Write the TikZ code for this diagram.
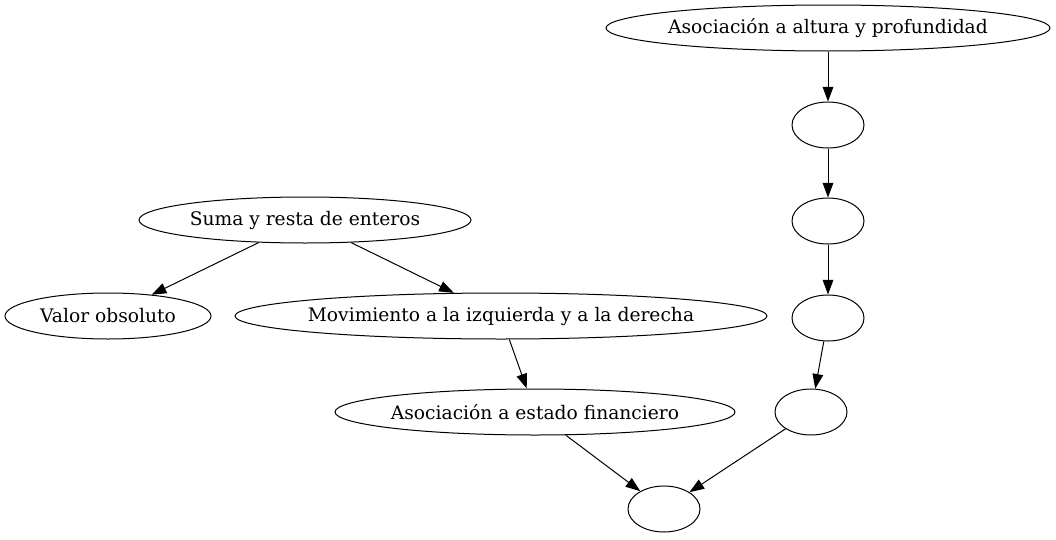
\documentclass[tikz,border=0pt]{standalone}
\usepackage{fontspec}
\setmainfont{DejaVu Serif}
\usetikzlibrary{shapes.geometric,arrows.meta}
\begin{document}
\begin{tikzpicture}[x=0.75pt,y=-0.75pt,
  ell/.style={draw,ellipse,inner sep=0pt,line width=0.75pt,minimum height=34.5pt},
  lbl/.style={font=\fontsize{14}{16}\selectfont,inner sep=0pt},
  edge/.style={-{Triangle[length=11pt,width=8pt]},line width=0.75pt}]
\useasboundingbox (0,0) rectangle (1056,539);
\node[ell,minimum width={444*0.75pt},label={[lbl]center:Asociación a altura y profundidad}] (alt) at (828,28) {};
\node[ell,minimum width={72*0.75pt}] (e1) at (828,125) {};
\node[ell,minimum width={72*0.75pt}] (e2) at (828,221) {};
\node[ell,minimum width={72*0.75pt}] (e3) at (828,318) {};
\node[ell,minimum width={72*0.75pt}] (e4) at (811,412) {};
\node[ell,minimum width={72*0.75pt}] (bot) at (664,509) {};
\node[ell,minimum width={332*0.75pt},label={[lbl]center:Suma y resta de enteros}] (suma) at (305,220) {};
\node[ell,minimum width={206*0.75pt},label={[lbl]center:Valor obsoluto}] (valor) at (108,316) {};
\node[ell,minimum width={532*0.75pt},label={[lbl]center:Movimiento a la izquierda y a la derecha}] (mov) at (501,316) {};
\node[ell,minimum width={400*0.75pt},label={[lbl]center:Asociación a estado financiero}] (fin) at (535,412) {};
\draw[edge] (alt) -- (e1);
\draw[edge] (e1) -- (e2);
\draw[edge] (e2) -- (e3);
\draw[edge] (e3) -- (e4);
\draw[edge] (e4) -- (bot);
\draw[edge] (suma) -- (valor);
\draw[edge] (suma) -- (mov);
\draw[edge] (mov) -- (fin);
\draw[edge] (fin) -- (bot);
\end{tikzpicture}
\end{document}
